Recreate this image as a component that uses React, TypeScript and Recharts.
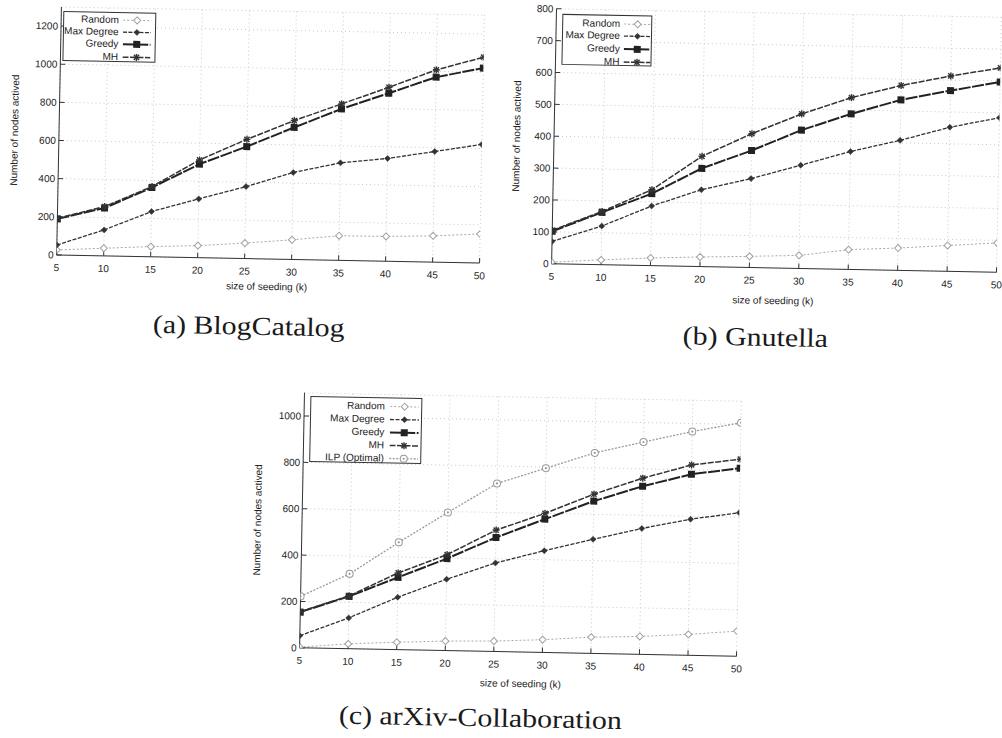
import React from 'react';
import { LineChart, Line, XAxis, YAxis, CartesianGrid } from 'recharts';

// ---------- data ----------
const seeds = [5, 10, 15, 20, 25, 30, 35, 40, 45, 50];

const blogRandom = [26, 40, 53, 63, 81, 103, 129, 130, 138, 152];
const blogMaxDegree = [52, 136, 237, 308, 377, 456, 511, 539, 580, 622];
const blogGreedy = [189, 251, 363, 490, 587, 692, 794, 881, 970, 1022];
const blogMH = [192, 258, 368, 512, 625, 728, 820, 912, 1008, 1079];
const blogYTicks = [0, 200, 400, 600, 800, 1000, 1200];

const gnuRandom = [5, 15, 24, 30, 35, 41, 62, 70, 81, 92];
const gnuMaxDegree = [70, 121, 187, 241, 279, 324, 370, 408, 452, 485];
const gnuGreedy = [102, 164, 226, 308, 367, 434, 488, 535, 567, 597];
const gnuMH = [105, 167, 238, 346, 420, 485, 539, 580, 613, 641];
const gnuYTicks = [0, 100, 200, 300, 400, 500, 600, 700, 800];

const arxRandom = [3, 21, 32, 41, 45, 55, 70, 77, 90, 108];
const arxMaxDegree = [52, 133, 226, 308, 382, 439, 492, 543, 587, 619];
const arxGreedy = [154, 226, 312, 397, 492, 575, 657, 725, 781, 811];
const arxMH = [156, 228, 331, 414, 524, 600, 687, 760, 821, 850];
const arxILP = [222, 323, 463, 596, 725, 795, 865, 916, 965, 1007];
const arxYTicks = [0, 200, 400, 600, 800, 1000];

const seriesNames: Record<string, string> = {
  random: 'Random',
  maxDegree: 'Max Degree',
  greedy: 'Greedy',
  mh: 'MH',
  ilp: 'ILP (Optimal)',
};

// ---------- styles ----------
const ROT = 1.1;
const SANS = '"Liberation Sans", Arial, sans-serif';
const SERIF = '"Liberation Serif", "Times New Roman", serif';

type Shape = 'diamondOpen' | 'diamond' | 'square' | 'star' | 'circleDot';
const styles: Record<string, { stroke: string; width: number; dash: string; shape: Shape }> = {
  random: { stroke: '#a8a8a8', width: 1, dash: '2 2', shape: 'diamondOpen' },
  maxDegree: { stroke: '#333', width: 1.3, dash: '4 1.5', shape: 'diamond' },
  greedy: { stroke: '#222', width: 2, dash: '12 1.5', shape: 'square' },
  mh: { stroke: '#333', width: 1.5, dash: '6 1.5', shape: 'star' },
  ilp: { stroke: '#999', width: 1.3, dash: '2 1.5', shape: 'circleDot' },
};

function marker(shape: Shape, cx: number, cy: number, key: string) {
  switch (shape) {
    case 'diamondOpen':
      return (
        <polygon key={key} points={`${cx},${cy - 3.5} ${cx + 3.5},${cy} ${cx},${cy + 3.5} ${cx - 3.5},${cy}`}
          fill="#fff" stroke="#a0a0a0" strokeWidth={1} />
      );
    case 'diamond':
      return (
        <polygon key={key} points={`${cx},${cy - 3} ${cx + 3},${cy} ${cx},${cy + 3} ${cx - 3},${cy}`}
          fill="#333" stroke="#333" strokeWidth={0.5} />
      );
    case 'square':
      return <rect key={key} x={cx - 3.5} y={cy - 3.5} width={7} height={7} fill="#222" />;
    case 'star':
      return (
        <g key={key} stroke="#333" strokeWidth={1.4}>
          <line x1={cx - 3.5} y1={cy} x2={cx + 3.5} y2={cy} />
          <line x1={cx} y1={cy - 3.5} x2={cx} y2={cy + 3.5} />
          <line x1={cx - 2.6} y1={cy - 2.6} x2={cx + 2.6} y2={cy + 2.6} />
          <line x1={cx - 2.6} y1={cy + 2.6} x2={cx + 2.6} y2={cy - 2.6} />
        </g>
      );
    case 'circleDot':
    default:
      return (
        <g key={key}>
          <circle cx={cx} cy={cy} r={3.5} fill="#fff" stroke="#999" strokeWidth={1} />
          <circle cx={cx} cy={cy} r={1.1} fill="#999" />
        </g>
      );
  }
}

type Cfg = {
  left: number; top: number; W: number; H: number; PW: number; PH: number;
  yMax: number; yTicks: number[];
  rows: any[]; keys: string[];
  legend: { x: number; y: number; w: number; h: number; textRight: number; sL: number; sR: number; start: number; step: number };
  yTitle: [number, number]; xTitle: [number, number]; caption: [number, number]; captionText: string;
};

function Panel({ cfg }: { cfg: Cfg }) {
  const L = 50, T = 10, XH = 30;
  const cx = L + cfg.PW / 2, cy = T + cfg.PH / 2;
  const tickStyle = { fill: '#222', fontSize: 10, fontFamily: SANS };
  const lg = cfg.legend;
  return (
    <div style={{
      position: 'absolute', left: cfg.left, top: cfg.top, width: cfg.W, height: 360,
      transform: `rotate(${ROT}deg)`, transformOrigin: `${cx}px ${cy}px`,
    }}>
      <LineChart width={cfg.W} height={cfg.H} data={cfg.rows}
        margin={{ top: T, right: cfg.W - L - cfg.PW, bottom: cfg.H - T - cfg.PH - XH, left: 0 }}>
        <CartesianGrid stroke="#c8c8c8" strokeDasharray="1 3" />
        <XAxis dataKey="k" type="number" domain={[5, 50]} ticks={seeds} interval={0} height={XH}
          tickSize={-5} tickMargin={14} stroke="#333" tick={tickStyle} allowDataOverflow />
        <XAxis xAxisId="top" orientation="top" dataKey="k" type="number" domain={[5, 50]} ticks={seeds}
          interval={0} height={0} tickSize={-5} stroke="#333" tick={false} />
        <YAxis type="number" domain={[0, cfg.yMax]} ticks={cfg.yTicks} interval={0} width={L}
          tickSize={-5} tickMargin={8} stroke="#333" tick={tickStyle} allowDataOverflow />
        <YAxis yAxisId="right" orientation="right" type="number" domain={[0, cfg.yMax]} ticks={cfg.yTicks}
          interval={0} width={0} tickSize={-5} stroke="#333" tick={false} />
        {cfg.keys.map((k) => {
          const s = styles[k];
          return (
            <Line key={k} type="linear" dataKey={k} name={seriesNames[k]} stroke={s.stroke}
              strokeWidth={s.width} strokeDasharray={s.dash} isAnimationActive={false} activeDot={false}
              dot={(p: any) => (p.cx == null ? <g key={`${k}-${p.index}`} /> : marker(s.shape, p.cx, p.cy, `${k}-${p.index}`))} />
          );
        })}
      </LineChart>
      {/* legend */}
      <div style={{
        position: 'absolute', left: lg.x, top: lg.y, width: lg.w, height: lg.h, boxSizing: 'border-box',
        border: '1px solid #333', background: '#fff',
      }}>
        {cfg.keys.map((k, i) => {
          const s = styles[k];
          const yc = lg.start + i * lg.step;
          const sw = lg.sR - lg.sL;
          return (
            <div key={k} style={{ position: 'absolute', left: 0, top: yc - 7, height: 14, width: lg.w }}>
              <div style={{
                position: 'absolute', left: 0, width: lg.textRight, textAlign: 'right', fontFamily: SANS,
                fontSize: 10, lineHeight: '14px', color: '#222', whiteSpace: 'nowrap',
              }}>{seriesNames[k]}</div>
              <svg style={{ position: 'absolute', left: lg.sL, top: 0 }} width={sw} height={14}>
                <line x1={0} y1={7} x2={sw} y2={7} stroke={s.stroke} strokeWidth={s.width} strokeDasharray={s.dash} />
                {marker(s.shape, sw / 2, 7, 'm')}
              </svg>
            </div>
          );
        })}
      </div>
      {/* axis titles */}
      <div style={{
        position: 'absolute', left: cfg.yTitle[0] - 100, top: cfg.yTitle[1] - 7, width: 200, height: 14,
        textAlign: 'center', fontFamily: SANS, fontSize: 10, lineHeight: '14px', color: '#222',
        transform: 'rotate(-90deg)', whiteSpace: 'nowrap',
      }}>Number of nodes actived</div>
      <div style={{
        position: 'absolute', left: cfg.xTitle[0] - 100, top: cfg.xTitle[1] - 7, width: 200, height: 14,
        textAlign: 'center', fontFamily: SANS, fontSize: 10, lineHeight: '14px', color: '#222', whiteSpace: 'nowrap',
      }}>size of seeding (k)</div>
      <div style={{
        position: 'absolute', left: cfg.caption[0] - 200, top: cfg.caption[1] - 16, width: 400, height: 32,
        textAlign: 'center', fontFamily: SERIF, fontSize: 26, lineHeight: '32px', color: '#1a1a1a', whiteSpace: 'nowrap',
      }}>
        <span style={{ display: 'inline-block', transform: 'scaleX(1.15)' }}>{cfg.captionText}</span>
      </div>
    </div>
  );
}

const blogRows = seeds.map((k, i) => ({ k, random: blogRandom[i], maxDegree: blogMaxDegree[i], greedy: blogGreedy[i], mh: blogMH[i] }));
const gnuRows = seeds.map((k, i) => ({ k, random: gnuRandom[i], maxDegree: gnuMaxDegree[i], greedy: gnuGreedy[i], mh: gnuMH[i] }));
const arxRows = seeds.map((k, i) => ({ k, random: arxRandom[i], maxDegree: arxMaxDegree[i], greedy: arxGreedy[i], mh: arxMH[i], ilp: arxILP[i] }));

const panels: Cfg[] = [
  {
    left: 9.4, top: 1.2, W: 483, H: 298, PW: 423, PH: 248, yMax: 1300, yTicks: blogYTicks,
    rows: blogRows, keys: ['random', 'maxDegree', 'greedy', 'mh'],
    legend: { x: 51.7, y: 13.9, w: 93, h: 50, textRight: 55, sL: 59, sR: 87, start: 7, step: 12.3 },
    yTitle: [5.5, 133.7], xTitle: [260.5, 285.9], caption: [243.3, 326.2], captionText: '(a) BlogCatalog',
  },
  {
    left: 504.1, top: 2.6, W: 505, H: 305, PW: 445, PH: 255, yMax: 800, yTicks: gnuYTicks,
    rows: gnuRows, keys: ['random', 'maxDegree', 'greedy', 'mh'],
    legend: { x: 56, y: 14.7, w: 90, h: 51, textRight: 57, sL: 61, sR: 88, start: 8, step: 12.7 },
    yTitle: [12.8, 138.4], xTitle: [272, 298.4], caption: [254.7, 335.3], captionText: '(b) Gnutella',
  },
  {
    left: 251.6, top: 386.5, W: 497, H: 305, PW: 437, PH: 255, yMax: 1100, yTicks: arxYTicks,
    rows: arxRows, keys: ['random', 'maxDegree', 'greedy', 'mh', 'ilp'],
    legend: { x: 55.6, y: 12.5, w: 112, h: 66, textRight: 74, sL: 79, sR: 108, start: 8, step: 13 },
    yTitle: [6.3, 137.5], xTitle: [271.5, 296.5], caption: [232.1, 332.3], captionText: '(c) arXiv-Collaboration',
  },
];

export default function App() {
  return (
    <div style={{ position: 'absolute', left: 0, top: 0, width: 1002, height: 738, background: '#fff', overflow: 'hidden' }}>
      {panels.map((p, i) => <Panel key={i} cfg={p} />)}
    </div>
  );
}
